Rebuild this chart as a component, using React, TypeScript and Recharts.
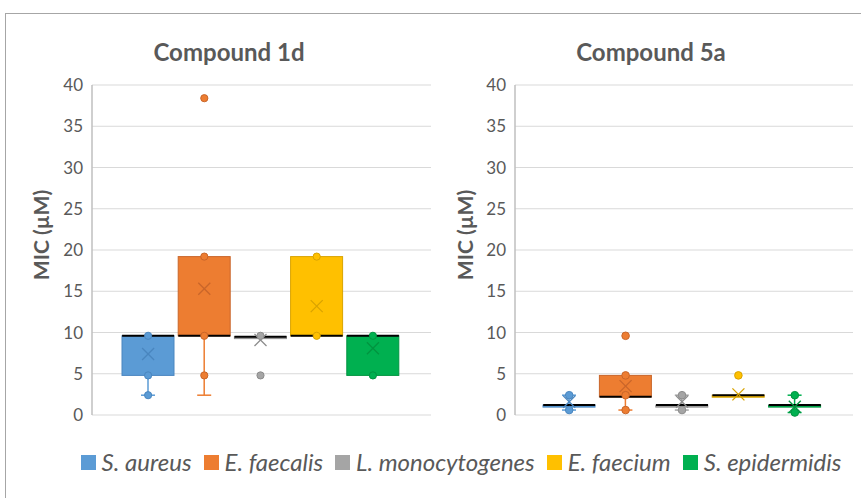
import React from 'react';
import {
  ComposedChart,
  Bar,
  Scatter,
  XAxis,
  YAxis,
  CartesianGrid,
  Cell,
} from 'recharts';

const species = ['S. aureus', 'E. faecalis', 'L. monocytogenes', 'E. faecium', 'S. epidermidis'];
const colors = ['#5B9BD5', '#ED7D31', '#A5A5A5', '#FFC000', '#00B050'];
const edgeColors = ['#4A86BF', '#C9662A', '#8C8C8C', '#D9A300', '#009440'];
const yTicks = [0, 5, 10, 15, 20, 25, 30, 35, 40];

// Compound 1d, MIC in µM
const low1d = [2.4, 2.4, 9.6, 9.6, 4.8];
const q1_1d = [4.8, 9.6, 9.5, 9.6, 4.8];
const median1d = [9.6, 9.6, 9.5, 9.6, 9.6];
const q3_1d = [9.6, 19.2, 9.5, 19.2, 9.6];
const high1d = [9.6, 19.2, 9.5, 19.2, 9.6];
const mean1d = [7.4, 15.3, 9.1, 13.2, 8.1];
const points1d = [[2.4, 4.8, 9.6], [4.8, 9.6, 19.2, 38.4], [4.8, 9.6], [9.6, 19.2], [4.8, 9.6]];

// Compound 5a, MIC in µM
const low5a = [0.6, 0.6, 0.6, 2.4, 0.3];
const q1_5a = [1.2, 2.2, 1.2, 2.4, 1.2];
const median5a = [1.2, 2.2, 1.2, 2.4, 1.2];
const q3_5a = [1.2, 4.8, 1.2, 2.4, 1.2];
const high5a = [2.4, 4.8, 2.4, 2.4, 2.4];
const mean5a = [1.6, 3.5, 1.6, 2.5, 1.0];
const points5a = [[0.6, 2.4], [0.6, 2.4, 4.8, 9.6], [0.6, 2.4], [4.8], [0.3, 2.4]];

const BOX_W = 52;
const FONT = 'Lato, "Open Sans", sans-serif';
const TEXT = '#595959';

type Stats = {
  low: number[];
  q1: number[];
  median: number[];
  q3: number[];
  high: number[];
  mean: number[];
  points: number[][];
};

const buildRows = (s: Stats) =>
  species.map((name, i) => ({
    name,
    idx: i,
    low: s.low[i],
    q1: s.q1[i],
    median: s.median[i],
    q3: s.q3[i],
    high: s.high[i],
    mean: s.mean[i],
  }));

const buildPoints = (s: Stats) =>
  s.points.flatMap((vals, i) => vals.map((v) => ({ name: species[i], idx: i, value: v })));

const colorOf = (p: any) => p?.payload?.idx ?? p?.index ?? 0;

const WhiskerShape = (cap: 'top' | 'bottom') => (p: any) => {
  const { x, y, width, height } = p;
  if (!(height > 0.5)) return <g />;
  const i = colorOf(p);
  const cx = x + width / 2;
  const cy = cap === 'top' ? y : y + height;
  return (
    <g>
      <line x1={cx} x2={cx} y1={y} y2={y + height} stroke={colors[i]} strokeWidth={1.5} />
      <line x1={cx - 7} x2={cx + 7} y1={cy} y2={cy} stroke={colors[i]} strokeWidth={1.5} />
    </g>
  );
};

const BoxShape = (p: any) => {
  const { x, y, width, height } = p;
  const i = colorOf(p);
  const h = Math.max(height || 0, 2);
  return (
    <rect x={x} y={y} width={width} height={h} fill={colors[i]} stroke={edgeColors[i]} strokeWidth={1} />
  );
};

const MedianShape = (p: any) => (
  <line x1={p.cx - BOX_W / 2} x2={p.cx + BOX_W / 2} y1={p.cy} y2={p.cy} stroke="#000" strokeWidth={2} />
);

const MeanShape = (p: any) => {
  const i = p?.payload?.idx ?? 0;
  const s = 6;
  return (
    <g stroke={edgeColors[i]} strokeWidth={1.3}>
      <line x1={p.cx - s} x2={p.cx + s} y1={p.cy - s} y2={p.cy + s} />
      <line x1={p.cx - s} x2={p.cx + s} y1={p.cy + s} y2={p.cy - s} />
    </g>
  );
};

const PointShape = (r: number) => (p: any) => {
  const i = p?.payload?.idx ?? 0;
  return <circle cx={p.cx} cy={p.cy} r={r} fill={colors[i]} stroke={edgeColors[i]} strokeWidth={1} />;
};

function BoxPlot({
  stats,
  margin,
  padding,
  dotR,
}: {
  stats: Stats;
  margin: { top: number; right: number; bottom: number; left: number };
  padding: { left: number; right: number };
  dotR: number;
}) {
  const rows = buildRows(stats);
  const pts = buildPoints(stats);
  return (
    <ComposedChart width={420} height={355} data={rows} margin={margin} barSize={BOX_W} barGap={-BOX_W}>
      <CartesianGrid vertical={false} stroke="#d9d9d9" />
      <XAxis
        dataKey="name"
        type="category"
        allowDuplicatedCategory={false}
        padding={padding}
        tick={false}
        tickLine={false}
        height={0}
        axisLine={{ stroke: '#bfbfbf', strokeWidth: 1.5 }}
      />
      <XAxis
        xAxisId="top"
        orientation="top"
        dataKey="name"
        tick={false}
        tickLine={false}
        height={0}
        axisLine={{ stroke: '#bfbfbf', strokeWidth: 1.5 }}
      />
      <YAxis
        domain={[0, 40]}
        ticks={yTicks}
        width={50}
        tickLine={false}
        tickMargin={3}
        tick={{ fontSize: 17, fill: TEXT, fontFamily: FONT }}
        axisLine={{ stroke: '#bfbfbf', strokeWidth: 1.5 }}
      />
      <YAxis
        yAxisId="right"
        orientation="right"
        domain={[0, 40]}
        width={0}
        tick={false}
        tickLine={false}
        axisLine={{ stroke: '#bfbfbf', strokeWidth: 1.5 }}
      />
      <Bar dataKey={(d: any) => [d.low, d.q1]} shape={WhiskerShape('bottom')} isAnimationActive={false} />
      <Bar dataKey={(d: any) => [d.q3, d.high]} shape={WhiskerShape('top')} isAnimationActive={false} />
      <Bar dataKey={(d: any) => [d.q1, d.q3]} shape={BoxShape} isAnimationActive={false} />
      <Scatter data={rows} dataKey="median" shape={MedianShape} isAnimationActive={false} />
      <Scatter data={rows} dataKey="mean" shape={MeanShape} isAnimationActive={false} />
      <Scatter data={pts} dataKey="value" shape={PointShape(dotR)} isAnimationActive={false}>
        {pts.map((p, k) => (
          <Cell key={k} fill={colors[p.idx]} />
        ))}
      </Scatter>
    </ComposedChart>
  );
}

const abs = (left: number, top: number): React.CSSProperties => ({ position: 'absolute', left, top });

export default function App() {
  const s1d: Stats = { low: low1d, q1: q1_1d, median: median1d, q3: q3_1d, high: high1d, mean: mean1d, points: points1d };
  const s5a: Stats = { low: low5a, q1: q1_5a, median: median5a, q3: q3_5a, high: high5a, mean: mean5a, points: points5a };

  const titleStyle: React.CSSProperties = {
    position: 'absolute',
    top: 52,
    transform: 'translate(-50%, -50%)',
    fontSize: 24,
    fontWeight: 700,
    color: TEXT,
    whiteSpace: 'nowrap',
    lineHeight: 1,
  };
  const yLabelStyle: React.CSSProperties = {
    position: 'absolute',
    top: 235,
    transform: 'translate(-50%, -50%) rotate(-90deg)',
    fontSize: 21,
    fontWeight: 700,
    color: TEXT,
    whiteSpace: 'nowrap',
    lineHeight: 1,
  };

  return (
    <div
      style={{
        position: 'absolute',
        left: 0,
        top: 0,
        width: 861,
        height: 498,
        overflow: 'hidden',
        background: '#fff',
        fontFamily: FONT,
      }}
    >
      <div style={{ ...abs(5, 13), width: 900, height: 600, border: '1.5px solid #a6a6a6' }} />

      <div style={{ ...titleStyle, left: 229 }}>Compound 1d</div>
      <div style={{ ...titleStyle, left: 651 }}>Compound 5a</div>
      <div style={{ ...yLabelStyle, left: 40 }}>MIC (µM)</div>
      <div style={{ ...yLabelStyle, left: 464 }}>MIC (µM)</div>

      <div style={abs(20, 70)}>
        <BoxPlot stats={s1d} margin={{ top: 15, right: 9, bottom: 10, left: 22 }} padding={{ left: 28, right: 30 }} dotR={3.6} />
      </div>
      <div style={abs(440, 70)}>
        <BoxPlot stats={s5a} margin={{ top: 15, right: 7, bottom: 10, left: 25 }} padding={{ left: 26, right: 30 }} dotR={3.8} />
      </div>

      <div
        style={{
          ...abs(61, 449),
          width: 800,
          display: 'flex',
          justifyContent: 'center',
          alignItems: 'center',
          gap: 12,
          height: 26,
        }}
      >
        {species.map((name, i) => (
          <div key={name} style={{ display: 'flex', alignItems: 'center' }}>
            <span style={{ width: 15, height: 15, background: colors[i], marginRight: 6, display: 'inline-block' }} />
            <span style={{ fontStyle: 'italic', fontSize: 24, color: TEXT, lineHeight: 1 }}>{name}</span>
          </div>
        ))}
      </div>
    </div>
  );
}
